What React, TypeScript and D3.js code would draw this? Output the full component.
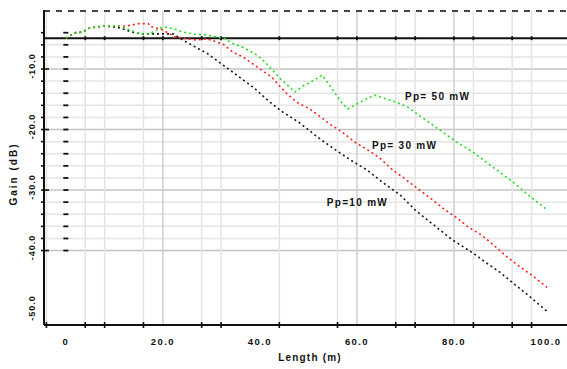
import React from 'react';
import * as d3 from 'd3';

const W = 567;
const H = 369;

// Gain (dB) vs fibre length (m), three pump powers
const greenLen = [0, 1.9, 3.5, 4.9, 8.0, 10.7, 12.8, 15.3, 17.3, 19.4, 20.8, 22.5, 24.1, 26.2, 29.1, 31.1, 32.8, 34.2, 36.5, 39.4, 41.0, 44.1, 45.6, 47.2, 48.9, 51.3, 52.8, 54.0, 55.5, 56.9, 58.1, 60.6, 63.7, 66.2, 68.2, 70.5, 73.6, 77.1, 80.6, 83.9, 88.0, 92.2, 95.3, 99.2];
const greenGain = [-4.9, -4.0, -3.9, -3.2, -2.9, -2.9, -3.4, -4.2, -4.2, -3.2, -3.1, -3.4, -3.9, -4.2, -4.4, -4.7, -5.0, -5.7, -6.4, -7.7, -8.8, -11.5, -12.6, -13.8, -12.8, -11.8, -11.0, -12.3, -14.0, -15.6, -16.6, -15.5, -14.3, -15.0, -15.5, -16.3, -18.1, -20.1, -22.1, -23.7, -26.2, -28.7, -30.8, -33.3];

const redLen = [0, 1.9, 3.5, 4.9, 8.0, 10.7, 12.5, 15.0, 17.0, 17.5, 19.6, 21.0, 22.5, 25.0, 27.0, 29.1, 31.0, 32.6, 34.4, 36.5, 42.5, 45.2, 47.6, 50.3, 52.8, 54.8, 56.9, 59.6, 62.3, 64.7, 67.4, 69.5, 72.4, 75.1, 77.7, 80.6, 83.1, 85.6, 88.2, 91.0, 93.6, 96.1, 99.2];
const redGain = [-4.9, -4.0, -3.9, -3.2, -2.9, -2.9, -2.9, -2.5, -2.5, -3.0, -3.4, -4.0, -4.7, -5.0, -5.2, -5.0, -5.5, -6.0, -7.2, -8.0, -11.4, -13.8, -15.5, -16.6, -18.1, -19.3, -20.4, -22.1, -23.4, -24.7, -26.7, -27.9, -29.7, -31.3, -33.0, -34.6, -36.2, -37.4, -39.1, -41.1, -42.7, -44.1, -46.1];

const blackLen = [0, 1.9, 3.5, 4.9, 8.0, 11.1, 13.6, 15.9, 22.1, 24.1, 27.0, 29.1, 38.6, 42.1, 44.7, 48.2, 51.8, 55.1, 58.6, 62.1, 65.4, 68.9, 72.0, 77.1, 79.8, 83.9, 86.8, 89.5, 92.2, 95.3, 99.4];
const blackGain = [-4.9, -4.0, -3.9, -3.2, -2.9, -3.2, -3.9, -4.2, -4.2, -5.2, -6.5, -7.4, -13.0, -15.5, -17.1, -18.9, -21.2, -23.1, -25.0, -26.7, -28.8, -30.8, -33.3, -36.6, -38.3, -40.4, -42.1, -43.6, -45.4, -47.4, -50.2];

const seriesNames = ['Pp=10 mW', 'Pp= 30 mW', 'Pp= 50 mW'];
const seriesColors = ['#1a1a1a', '#ff2020', '#22e022'];
const labelLen = [53.8, 63.1, 69.9];
const labelGain = [-32.1, -22.6, -14.6];

const xTickValues = [0, 20, 40, 60, 80, 100];
const xTickText = ['0', '20.0', '40.0', '60.0', '80.0', '100.0'];
const yTickValues = [-10, -20, -30, -40, -50];
const yTickText = ['-10.0', '-20.0', '-30.0', '-40.0', '-50.0'];

const xGrid = [-4, 4, 8, 16, 20, 28, 32, 44, 56, 60, 68, 72, 80, 84, 92, 96];
const xGridMajor = [20, 60, 80];
const xAxisTicks = [-4, 4, 8, 16, 28, 32, 44, 56, 68, 72, 84, 92, 96];
const yMinor = [-4, -6, -8, -10, -12, -14, -16, -18, -20, -22, -24, -26, -28, -30, -32, -34, -36, -38, -40];
const yGridMajor = [-10, -20, -30, -40];
const refLevel = -4.9;
const topLevel = -0.4;

const FONT = '"Liberation Sans", Arial, sans-serif';

export default function App() {
  const x = d3.scaleLinear().domain([-4.5, 103.3]).range([44, 567]);
  const y = d3.scaleLinear().domain([-52.3, 0]).range([325, 8.5]);
  const x0 = x.range()[0];
  const x1 = x.range()[1];
  const yBottom = y(-52.3);
  const yTop = y(topLevel);

  const line = d3
    .line<[number, number]>()
    .x((d) => x(d[0]))
    .y((d) => y(d[1]));

  const series: [number, number][][] = [
    blackLen.map((l, i) => [l, blackGain[i]]),
    redLen.map((l, i) => [l, redGain[i]]),
    greenLen.map((l, i) => [l, greenGain[i]]),
  ];

  const yGridLines = yMinor.filter((v) => v <= -6);

  return (
    <svg
      width={W}
      height={H}
      style={{ position: 'absolute', left: 0, top: 0, background: '#fff' }}
    >
      {/* horizontal grid */}
      {yGridLines.map((v) => (
        <line
          key={'hg' + v}
          x1={x0}
          x2={x1}
          y1={y(v)}
          y2={y(v)}
          stroke={yGridMajor.includes(v) ? '#c4c4c4' : '#e4e4e4'}
          strokeWidth={1.5}
        />
      ))}
      {/* vertical grid */}
      {xGrid.map((v) => (
        <line
          key={'vg' + v}
          x1={x(v)}
          x2={x(v)}
          y1={yTop}
          y2={yBottom}
          stroke={xGridMajor.includes(v) ? '#cfcfcf' : '#e4e4e4'}
          strokeWidth={1.5}
        />
      ))}
      {/* inner tick column at L = 0 */}
      {yMinor.map((v) => (
        <line
          key={'ic' + v}
          x1={x(0) - 2.5}
          x2={x(0) + 2.5}
          y1={y(v)}
          y2={y(v)}
          stroke="#111"
          strokeWidth={1.8}
        />
      ))}
      {/* top dashed line */}
      <line x1={x0} x2={x1} y1={yTop} y2={yTop} stroke="#444" strokeWidth={2} strokeDasharray="6,6" />
      {/* reference line */}
      <line x1={x0} x2={x1} y1={y(refLevel)} y2={y(refLevel)} stroke="#111" strokeWidth={2} />
      {xGrid
        .filter((v) => v > 0)
        .map((v) => (
          <line
            key={'rt' + v}
            x1={x(v)}
            x2={x(v)}
            y1={y(refLevel) - 2}
            y2={y(refLevel) + 2}
            stroke="#111"
            strokeWidth={1.8}
          />
        ))}
      {/* curves */}
      {series.map((s, i) => (
        <path
          key={'s' + i}
          d={line(s) || ''}
          fill="none"
          stroke={seriesColors[i]}
          strokeWidth={1.6}
          strokeDasharray="2,3"
        />
      ))}
      {/* curve labels */}
      {seriesNames.map((n, i) => (
        <text
          key={'lab' + i}
          x={x(labelLen[i])}
          y={y(labelGain[i])}
          dy="0.35em"
          fontFamily={FONT}
          fontSize={10}
          fontWeight="bold"
          letterSpacing={1.3}
          fill="#111"
        >
          {n}
        </text>
      ))}
      {/* axes */}
      <line x1={x0} x2={x0} y1={yTop - 1} y2={yBottom} stroke="#111" strokeWidth={2} />
      <line x1={x0} x2={x1} y1={yBottom} y2={yBottom} stroke="#111" strokeWidth={2} />
      {yMinor.map((v) => (
        <line
          key={'yt' + v}
          x1={x0 - 3}
          x2={yGridMajor.includes(v) ? x0 + 5 : x0}
          y1={y(v)}
          y2={y(v)}
          stroke="#111"
          strokeWidth={1.6}
        />
      ))}
      {xAxisTicks.map((v) => (
        <line
          key={'xt' + v}
          x1={x(v)}
          x2={x(v)}
          y1={yBottom - 3}
          y2={yBottom + 3}
          stroke="#111"
          strokeWidth={1.6}
        />
      ))}
      {/* tick labels */}
      {xTickValues.map((v, i) => (
        <text
          key={'xl' + v}
          x={Math.min(x(v), 546)}
          y={342}
          dy="0.35em"
          textAnchor="middle"
          fontFamily={FONT}
          fontSize={9.5}
          fontWeight="bold"
          letterSpacing={1.4}
          fill="#111"
        >
          {xTickText[i]}
        </text>
      ))}
      {yTickValues.map((v, i) => (
        <text
          key={'yl' + v}
          transform={`translate(32,${y(v) - 3}) rotate(-90)`}
          dy="0.35em"
          textAnchor="middle"
          fontFamily={FONT}
          fontSize={9}
          fontWeight="bold"
          letterSpacing={1}
          fill="#111"
        >
          {yTickText[i]}
        </text>
      ))}
      {/* axis titles */}
      <text
        x={310}
        y={357}
        dy="0.35em"
        textAnchor="middle"
        fontFamily={FONT}
        fontSize={10}
        fontWeight="bold"
        letterSpacing={1.2}
        fill="#111"
      >
        Length (m)
      </text>
      <text
        transform="translate(13,174) rotate(-90)"
        dy="0.35em"
        textAnchor="middle"
        fontFamily={FONT}
        fontSize={10}
        fontWeight="bold"
        letterSpacing={2}
        fill="#111"
      >
        Gain (dB)
      </text>
    </svg>
  );
}
